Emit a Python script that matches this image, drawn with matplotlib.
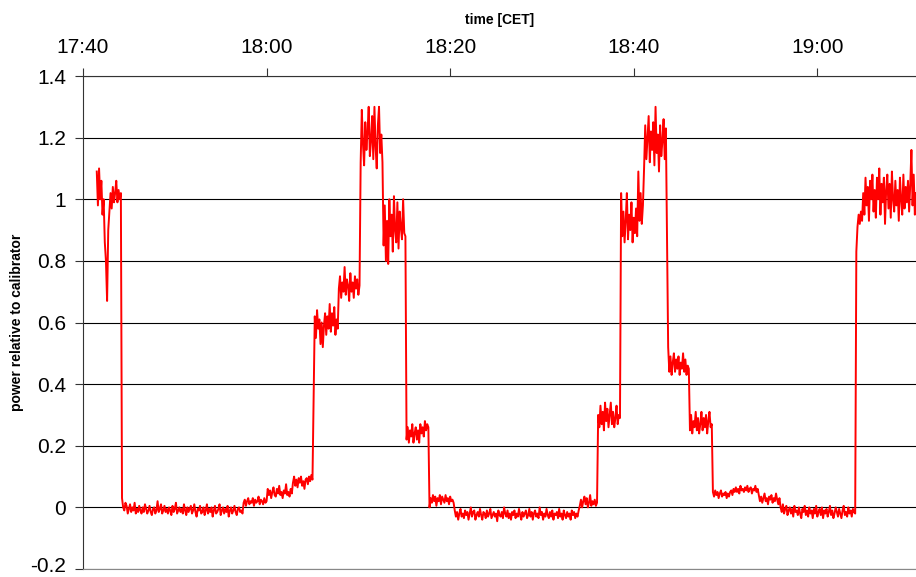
import numpy as np
import matplotlib.pyplot as plt
import matplotlib.transforms as mtransforms

plt.rcParams['font.family'] = ['Liberation Sans', 'DejaVu Sans']

# x axis: minutes after 17:40
tick_minutes = [0, 20, 40, 60, 80]
tick_labels = ['17:40', '18:00', '18:20', '18:40', '19:00']
y_ticks = [-0.2, 0, 0.2, 0.4, 0.6, 0.8, 1.0, 1.2, 1.4]
y_labels = ['-0.2', '0', '0.2', '0.4', '0.6', '0.8', '1', '1.2', '1.4']

step = 0.125  # sample spacing in minutes

# readings, each block starts at the given minute
seg_a = [1.09, 0.98, 1.10, 1.0, 1.06, 0.95, 1.0, 0.86, 0.80, 0.67, 0.90,
         0.96, 1.02, 0.97, 1.04, 0.99, 1.02, 1.06, 0.99, 1.03, 1.0, 1.02]
seg_b1 = [0.03, 0.0, -0.01, 0.015, 0.005, -0.02, -0.005, 0.01, -0.015, 0.0,
          -0.01, 0.015, -0.02, -0.005, -0.015, 0.005, -0.01, -0.02, 0.0, -0.015,
          0.01, -0.005, -0.02, -0.01, 0.005, -0.015, -0.025, -0.005, 0.0, -0.02,
          -0.01, 0.02, -0.015, -0.005, 0.01, -0.02, -0.01, 0.005, -0.015, -0.005,
          -0.02, 0.0, -0.01, -0.025, 0.005, -0.015, -0.005, 0.015, -0.02, -0.01,
          0.0, -0.015, -0.005, -0.02, 0.01, -0.01, -0.025, 0.0, -0.015, -0.005,
          0.005, -0.02, -0.01, 0.01, -0.015, -0.03, -0.005, -0.01, 0.005, -0.02,
          -0.015, 0.0, -0.025, -0.01, 0.01, -0.02, -0.005, -0.015, 0.0, -0.03,
          -0.01, 0.005, -0.02, -0.015, -0.005, 0.01, -0.025, -0.01, 0.0, -0.02,
          -0.005, -0.015, 0.005, -0.03, -0.01, 0.0, -0.02, -0.01, 0.005, -0.015,
          -0.025, -0.005, 0.0, -0.015, -0.01, -0.02]
seg_b2 = [0.015, 0.025, 0.005, 0.02, 0.03, 0.01, 0.02, 0.015, 0.03, 0.005,
          0.025, 0.015, 0.02, 0.035, 0.01, 0.025, 0.02, 0.01, 0.03, 0.015, 0.02]
seg_c = [0.06, 0.04, 0.055, 0.03, 0.05, 0.065, 0.04, 0.035, 0.06, 0.045, 0.07,
         0.04, 0.05, 0.03, 0.055, 0.045, 0.075, 0.04, 0.05, 0.035, 0.06, 0.045]
seg_d = [0.08, 0.1, 0.07, 0.09, 0.065, 0.095, 0.08, 0.1, 0.07,
         0.085, 0.06, 0.09, 0.095, 0.075, 0.1, 0.085, 0.105, 0.09]
seg_e = [0.62, 0.55, 0.64, 0.58, 0.61, 0.53, 0.60, 0.52, 0.59, 0.63, 0.56,
         0.62, 0.58, 0.66, 0.57, 0.63, 0.59, 0.65, 0.56, 0.61, 0.58]
seg_f = [0.71, 0.75, 0.68, 0.73, 0.70, 0.78, 0.69, 0.74, 0.72, 0.67,
         0.76, 0.70, 0.73, 0.68, 0.75, 0.71, 0.74, 0.69, 0.72]
seg_g = [1.12, 1.29, 1.18, 1.11, 1.25, 1.16, 1.22, 1.30, 1.14, 1.19,
         1.27, 1.13, 1.30, 1.17, 1.10, 1.24, 1.30, 1.15, 1.21, 1.12]
seg_h = [0.85, 0.98, 0.80, 0.93, 0.79, 1.00, 0.88, 0.95, 0.83, 1.01,
         0.90, 0.86, 0.99, 0.84, 0.96, 0.91, 0.87, 1.00, 0.89, 0.88]
seg_i = [0.22, 0.26, 0.21, 0.25, 0.23, 0.27, 0.21, 0.24, 0.26, 0.22,
         0.25, 0.21, 0.27, 0.24, 0.26, 0.23, 0.28, 0.25, 0.27, 0.26]
seg_j = [0.0, 0.03, 0.015, 0.04, 0.02, 0.035, 0.005, 0.03, 0.02, 0.04, 0.01,
         0.035, 0.025, 0.015, 0.04, 0.02, 0.03, 0.01, 0.035, 0.02, 0.025, 0.015]
seg_k = [-0.01, -0.03, -0.015, -0.04, -0.02, -0.005, -0.03, -0.02, -0.035, -0.01,
         -0.025, -0.015, -0.04, -0.02, 0.0, -0.03, -0.015, -0.01, -0.04, -0.025,
         -0.015, -0.03, -0.005, -0.025, -0.04, -0.015, -0.02, -0.035, -0.01, -0.03,
         -0.02, -0.005, -0.035, -0.025, -0.015, -0.03, -0.02, -0.045, -0.01, -0.025,
         -0.03, -0.015, -0.035, 0.0, -0.02, -0.03, -0.01, -0.035, -0.02, -0.04,
         -0.015, -0.025, -0.01, -0.035, -0.02, -0.03, -0.005, -0.025, -0.04, -0.015,
         -0.03, -0.02, -0.01, -0.035, -0.025, -0.005, -0.03, -0.015, -0.04, -0.02,
         -0.01, -0.03, -0.02, -0.035, 0.0, -0.025, -0.015, -0.04, -0.02, -0.03,
         -0.005, -0.025, -0.035, -0.015, -0.03, -0.01, -0.04, -0.02, -0.025, -0.015,
         -0.035, -0.005, -0.03, -0.02, -0.04, -0.01, -0.025, -0.035, -0.015, -0.03,
         -0.02, -0.04, -0.01, -0.025, -0.015, -0.035, -0.02, -0.03, -0.01]
seg_l = [0.005, 0.025, 0.0, 0.02, 0.035, 0.01, 0.03, 0.0,
         0.015, 0.04, 0.005, 0.02, 0.01, 0.025, 0.005, 0.015]
seg_m = [0.30, 0.26, 0.33, 0.27, 0.31, 0.25, 0.34, 0.28, 0.32, 0.26,
         0.30, 0.34, 0.27, 0.31, 0.26, 0.29, 0.33, 0.27, 0.30, 0.29]
seg_n = [1.02, 0.88, 0.96, 0.86, 0.93, 1.02, 0.87, 0.95, 0.90, 0.99,
         0.86, 0.94, 0.89, 0.97, 0.88, 1.09, 0.93, 1.02, 0.92, 0.98]
seg_o = [1.10, 1.24, 1.13, 1.20, 1.27, 1.12, 1.22, 1.16, 1.25, 1.11,
         1.30, 1.15, 1.21, 1.09, 1.24, 1.14, 1.19, 1.26, 1.13, 1.23]
seg_p = [0.52, 0.44, 0.49, 0.43, 0.47, 0.50, 0.44, 0.48, 0.45, 0.49,
         0.43, 0.47, 0.45, 0.50, 0.44, 0.48, 0.43, 0.46, 0.45]
seg_q = [0.25, 0.30, 0.24, 0.28, 0.26, 0.31, 0.25, 0.29, 0.24, 0.27,
         0.31, 0.25, 0.29, 0.26, 0.30, 0.24, 0.28, 0.31, 0.26, 0.27]
seg_r = [0.05, 0.035, 0.055, 0.04, 0.05, 0.03, 0.045, 0.055, 0.035, 0.045,
         0.04, 0.05, 0.03, 0.045, 0.035, 0.05, 0.055, 0.04, 0.06, 0.05,
         0.065, 0.05, 0.06, 0.045, 0.07, 0.055, 0.06, 0.05, 0.065, 0.055,
         0.07, 0.05, 0.06, 0.065, 0.045, 0.06, 0.055, 0.07, 0.05, 0.06]
seg_s = [0.04, 0.02, 0.035, 0.015, 0.03, 0.045, 0.02, 0.03, 0.01, 0.035,
         0.025, 0.04, 0.015, 0.03, 0.02, 0.045, 0.025, 0.01, 0.03]
seg_t = [0.0, -0.015, 0.01, -0.02, -0.005, 0.005, -0.025, -0.01, 0.0, -0.02,
         -0.005, -0.03, 0.005, -0.015, -0.01, -0.025, 0.0, -0.02, -0.035, -0.005,
         -0.015, 0.005, -0.025, -0.01, -0.03, 0.0, -0.02, -0.01, -0.035, -0.005,
         -0.02, 0.005, -0.03, -0.015, -0.005, -0.025, 0.0, -0.035, -0.01, -0.02,
         -0.005, -0.03, -0.015, 0.005, -0.025, -0.01, -0.035, -0.02, 0.0, -0.015,
         -0.03, -0.005, -0.02, -0.035, -0.01, 0.005, -0.025, -0.015, -0.03, 0.0,
         -0.02, -0.01, -0.03, -0.005, -0.015, -0.02]
seg_u = [0.83, 0.91, 0.95, 0.92, 0.96, 0.93]
seg_v = [1.02, 0.95, 1.07, 0.98, 1.04, 0.93, 1.06, 1.0, 1.08, 0.96,
         1.03, 0.94, 1.07, 1.0, 1.10, 0.95, 1.05, 0.99, 1.07, 0.92,
         1.03, 1.08, 0.97, 1.05, 0.94, 1.09, 1.0, 0.96, 1.06, 0.98,
         1.03, 0.93, 1.07, 1.0, 0.95, 1.08, 0.97, 1.04, 0.99, 1.06,
         0.96, 1.05, 1.16, 0.98, 1.08, 0.95, 1.02]

segments = [(1.5, seg_a), (4.25, seg_b1), (17.5, seg_b2), (20.125, seg_c),
            (22.875, seg_d), (25.25, seg_e), (27.875, seg_f), (30.25, seg_g),
            (32.75, seg_h), (35.25, seg_i), (37.75, seg_j), (40.5, seg_k),
            (54.125, seg_l), (56.125, seg_m), (58.625, seg_n), (61.125, seg_o),
            (63.75, seg_p), (66.125, seg_q), (68.625, seg_r), (73.625, seg_s),
            (76.0, seg_t), (84.25, seg_u), (85.0, seg_v)]

t = np.concatenate([start + step * np.arange(len(v)) for start, v in segments])
power = np.concatenate([v for _, v in segments])

fig = plt.figure(figsize=(9.16, 5.77), dpi=100)
ax = fig.add_axes([83 / 916, 8 / 577, 833 / 916, 493 / 577])

ax.plot(t, power, color='#ff0000', lw=1.4, zorder=3)

ax.set_xlim(0, 90.75)
ax.set_ylim(-0.2, 1.4)
ax.xaxis.tick_top()
ax.xaxis.set_label_position('top')
ax.set_xticks(tick_minutes, tick_labels)
ax.set_yticks(y_ticks, y_labels)
ax.tick_params(axis='both', labelsize=15, direction='out', length=6,
               width=0.8, color='#333333')
ax.tick_params(axis='x', pad=8)
ax.tick_params(axis='y', pad=6)

# lowest label sits right at the bottom edge; lift it a little
lift = mtransforms.ScaledTranslation(0, 3 / 72, fig.dpi_scale_trans)
low = ax.get_yticklabels()[0]
low.set_transform(low.get_transform() + lift)

ax.grid(axis='y', color='black', lw=0.8)
ax.spines['right'].set_visible(False)
ax.spines['bottom'].set_color('#888888')
ax.spines['left'].set_color('#333333')
ax.spines['top'].set_color('#333333')

ax.set_xlabel('time [CET]', fontsize=10, fontweight='bold', labelpad=10)
ax.set_ylabel('power relative to calibrator', fontsize=10, fontweight='bold',
              labelpad=5)

plt.savefig('out.png', dpi=100)
